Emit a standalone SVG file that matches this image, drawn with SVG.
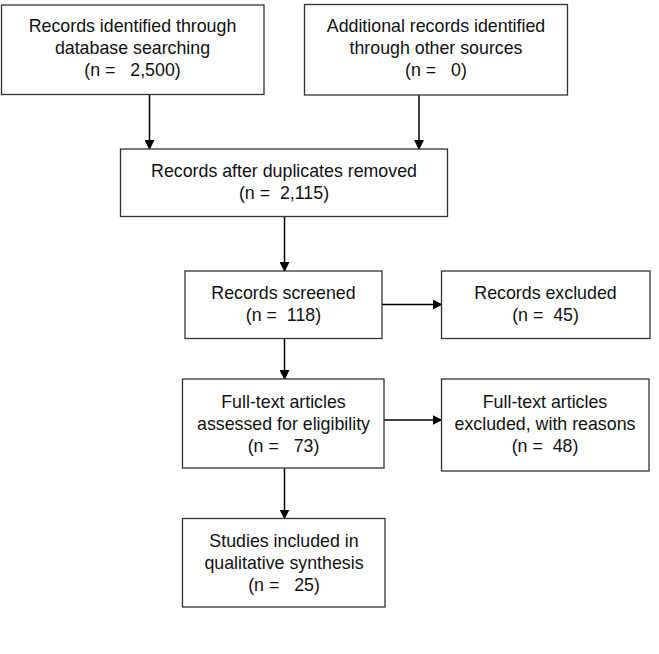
<svg xmlns="http://www.w3.org/2000/svg" width="659" height="654" viewBox="0 0 659 654">
<style>
.box{fill:#fff;stroke:#333;stroke-width:1.3}
.t{font-family:"Liberation Sans",Arial,sans-serif;font-size:17.8px;fill:#111;text-anchor:middle;white-space:pre}
.c{stroke:#000;stroke-width:1.5;fill:none;marker-end:url(#ah)}
</style>
<defs>
<marker id="ah" markerWidth="10" markerHeight="10" refX="9" refY="5" orient="auto" markerUnits="userSpaceOnUse">
<path d="M0,0 L10,5 L0,10 z" fill="#000"/>
</marker>
</defs>
<rect width="659" height="654" fill="#fff"/>
<g id="connectors">
<line class="c" x1="149.5" y1="95" x2="149.5" y2="149"/>
<line class="c" x1="419" y1="95" x2="419" y2="149"/>
<line class="c" x1="284.5" y1="217" x2="284.5" y2="271"/>
<line class="c" x1="382" y1="304.5" x2="441.5" y2="304.5"/>
<line class="c" x1="284.5" y1="339" x2="284.5" y2="379"/>
<line class="c" x1="384" y1="420" x2="441.5" y2="420"/>
<line class="c" x1="284.5" y1="468" x2="284.5" y2="518.5"/>
</g>
<g id="n1">
<rect class="box" x="1.5" y="5" width="262.5" height="89.5"/>
<text class="t" x="132.5" y="32" xml:space="preserve">Records identified through</text>
<text class="t" x="132.5" y="54">database searching</text>
<text class="t" x="132.5" y="76" xml:space="preserve">(n =   2,500)</text>
</g>
<g id="n2">
<rect class="box" x="304.5" y="4.5" width="263" height="90.5"/>
<text class="t" x="436" y="32">Additional records identified</text>
<text class="t" x="436" y="54">through other sources</text>
<text class="t" x="436" y="76" xml:space="preserve">(n =   0)</text>
</g>
<g id="n3">
<rect class="box" x="120.5" y="149" width="327" height="67.5"/>
<text class="t" x="284" y="177">Records after duplicates removed</text>
<text class="t" x="284" y="199" xml:space="preserve">(n =  2,115)</text>
</g>
<g id="n4">
<rect class="box" x="185" y="271" width="197" height="67.5"/>
<text class="t" x="283.5" y="299">Records screened</text>
<text class="t" x="283.5" y="321" xml:space="preserve">(n =  118)</text>
</g>
<g id="n5">
<rect class="box" x="441.5" y="271" width="208.5" height="67.5"/>
<text class="t" x="545.5" y="299">Records excluded</text>
<text class="t" x="545.5" y="321" xml:space="preserve">(n =  45)</text>
</g>
<g id="n6">
<rect class="box" x="182.5" y="379" width="201.5" height="89"/>
<text class="t" x="283.5" y="408">Full-text articles</text>
<text class="t" x="283.5" y="430">assessed for eligibility</text>
<text class="t" x="283.5" y="452" xml:space="preserve">(n =   73)</text>
</g>
<g id="n7">
<rect class="box" x="441.5" y="379" width="207.5" height="92"/>
<text class="t" x="545" y="408">Full-text articles</text>
<text class="t" x="545" y="430">excluded, with reasons</text>
<text class="t" x="545" y="452" xml:space="preserve">(n =  48)</text>
</g>
<g id="n8">
<rect class="box" x="182.5" y="518.5" width="202.5" height="88.5"/>
<text class="t" x="284" y="547">Studies included in</text>
<text class="t" x="284" y="569">qualitative synthesis</text>
<text class="t" x="284" y="591" xml:space="preserve">(n =   25)</text>
</g>
</svg>
